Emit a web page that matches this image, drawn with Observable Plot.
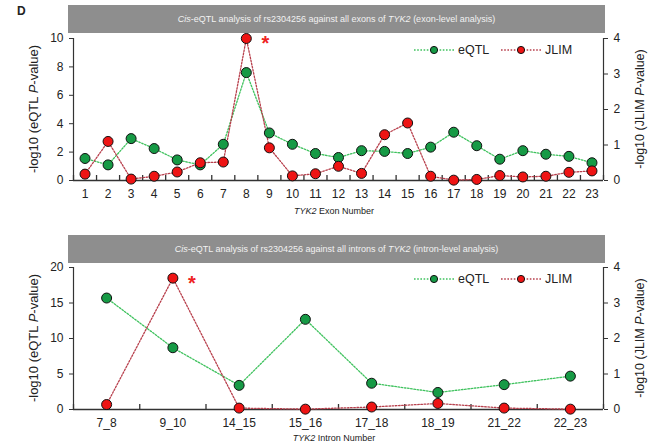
<!DOCTYPE html>
<html><head><meta charset="utf-8">
<script src="https://cdn.jsdelivr.net/npm/d3@7"></script>
<script src="https://cdn.jsdelivr.net/npm/@observablehq/plot@0.6"></script>
<style>
body{margin:0;background:#fff;font-family:"Liberation Sans",Arial,sans-serif}
#chart{position:relative;width:662px;height:445px;overflow:hidden}
#chart svg{position:absolute;left:0;display:block}
</style></head><body><div id="chart"></div><script>
// ---- data ----
const exonLabels = ["1","2","3","4","5","6","7","8","9","10","11","12","13","14","15","16","17","18","19","20","21","22","23"];
const exonEqtl = [1.55,1.1,2.95,2.25,1.45,1.1,2.55,7.6,3.35,2.55,1.9,1.62,2.1,2.05,1.9,2.35,3.4,2.45,1.5,2.1,1.85,1.7,1.25];
const exonJlim = [0.18,1.1,0.04,0.12,0.24,0.5,0.52,4.0,0.92,0.13,0.19,0.4,0.2,1.29,1.62,0.12,0.01,0.03,0.14,0.1,0.12,0.23,0.27];
const exonStar = ["8"];
const intronLabels = ["7_8","9_10","14_15","15_16","17_18","18_19","21_22","22_23"];
const intronEqtl = [15.7,8.7,3.4,12.7,3.7,2.4,3.5,4.7];
const intronJlim = [0.14,3.7,0.04,0.01,0.07,0.17,0.04,0.01];
const intronStar = ["9_10"];
const exonLeftTicks = [0,2,4,6,8,10];
const intronLeftTicks = [0,5,10,15,20];
const rightTicks = [0,1,2,3,4];

const FONT = "Liberation Sans, Arial, sans-serif";
const GREEN_LINE = "#3fc25e", GREEN_DOT = "#169a45";
const RED_LINE = "#b8404d", RED_DOT = "#ee1414";
const AXIS = "#333";

function panel(cfg) {
  const {labels, eqtl, jlim, star, leftMax, leftTicks, top, height, mt, mb, headerTop, titleParts, xTitleWord, xTitleOffset} = cfg;
  const k = leftMax / 4;
  const n = labels.length;
  const rows = labels.map((l, i) => ({i: i + 1, label: l, eqtl: eqtl[i], jlimS: jlim[i] * k, star: star.includes(l)}));
  const bounds = d3.range(0, n + 1).map(d => d + 0.5);
  const svg = Plot.plot({
    width: 662, height, marginTop: mt, marginBottom: mb, marginLeft: 73, marginRight: 59,
    style: {fontFamily: FONT, fontSize: "12px", color: "#222", background: "transparent", overflow: "visible"},
    x: {type: "linear", domain: [0.5, n + 0.5]},
    y: {domain: [0, leftMax]},
    marks: [
      Plot.ruleX([bounds[0]], {stroke: AXIS, strokeWidth: 1.2}),
      Plot.ruleX([bounds[n]], {stroke: AXIS, strokeWidth: 1.2}),
      Plot.ruleY([0], {stroke: AXIS, strokeWidth: 1.5}),
      Plot.axisX(d3.range(1, n + 1), {tickSize: 0, tickPadding: 9, tickFormat: i => labels[i - 1], fontSize: 12, label: null}),
      Plot.axisX(bounds, {tickSize: 5, dy: -5, tickFormat: () => "", label: null, stroke: AXIS, strokeWidth: 1.3}),
      Plot.axisY(leftTicks, {anchor: "left", tickSize: 4, tickPadding: 6, label: null, fontSize: 12, stroke: AXIS}),
      Plot.axisY(rightTicks.map(t => t * k), {anchor: "right", tickSize: 4, tickPadding: 6, tickFormat: d => String(Math.round(d / k)), label: null, fontSize: 12, stroke: AXIS}),
      Plot.line(rows, {x: "i", y: "eqtl", stroke: GREEN_LINE, strokeWidth: 1.3, strokeDasharray: "1.6,1.6"}),
      Plot.line(rows, {x: "i", y: "jlimS", stroke: RED_LINE, strokeWidth: 1.3, strokeDasharray: "1.6,1.6"}),
      Plot.dot(rows, {x: "i", y: "eqtl", r: 5, fill: GREEN_DOT, stroke: "#111", strokeWidth: 1}),
      Plot.dot(rows, {x: "i", y: "jlimS", r: 5, fill: RED_DOT, stroke: "#111", strokeWidth: 1}),
      Plot.text(rows.filter(d => d.star), {x: "i", y: "jlimS", text: () => "*", dx: 19, dy: 5, fill: "#ee2222", fontSize: 20, fontWeight: "bold"})
    ]
  });
  svg.style.top = top + "px";
  const s = d3.select(svg);
  // header band
  s.append("rect").attr("x", 68).attr("y", headerTop).attr("width", 537).attr("height", 28).attr("fill", "#8e8e8e");
  const ht = s.append("text").attr("x", 336.5).attr("y", headerTop + 14).attr("dy", "0.35em")
    .attr("text-anchor", "middle").attr("font-size", 9).attr("fill", "#f2f2f2").attr("font-family", FONT);
  titleParts.forEach(([t, it]) => ht.append("tspan").attr("font-style", it ? "italic" : "normal").text(t));
  const plotBottom = height - mb;
  // left y title
  const lt = s.append("text").attr("transform", `translate(33,${(mt + plotBottom) / 2}) rotate(-90)`)
    .attr("text-anchor", "middle").attr("dy", "0.35em").attr("font-size", 13).attr("fill", "#222").attr("font-family", FONT);
  lt.append("tspan").text("-log10 (eQTL ");
  lt.append("tspan").attr("font-style", "italic").text("P");
  lt.append("tspan").text("-value)");
  const rt = s.append("text").attr("transform", `translate(640,${(mt + plotBottom) / 2}) rotate(-90)`)
    .attr("text-anchor", "middle").attr("dy", "0.35em").attr("font-size", 12.5).attr("fill", "#222").attr("font-family", FONT);
  rt.append("tspan").text("-log10 (JLIM ");
  rt.append("tspan").attr("font-style", "italic").text("P");
  rt.append("tspan").text("-value)");
  // x title
  const xt = s.append("text").attr("x", 334).attr("y", plotBottom + xTitleOffset).attr("dy", "0.35em")
    .attr("text-anchor", "middle").attr("font-size", 9).attr("fill", "#222").attr("font-family", FONT);
  xt.append("tspan").attr("font-style", "italic").text("TYK2");
  xt.append("tspan").text(xTitleWord);
  // legend
  const ly = mt + 12;
  const lg = s.append("g").attr("font-family", FONT).attr("font-size", 12.5).attr("fill", "#222").attr("text-anchor", "start");
  [["eQTL", 414, GREEN_LINE, GREEN_DOT], ["JLIM", 501, RED_LINE, RED_DOT]].forEach(([name, x0, lc, dc]) => {
    lg.append("line").attr("x1", x0).attr("x2", x0 + 40).attr("y1", ly).attr("y2", ly)
      .attr("stroke", lc).attr("stroke-width", 1.3).attr("stroke-dasharray", "1.6,1.6");
    lg.append("circle").attr("cx", x0 + 20).attr("cy", ly).attr("r", 3.6).attr("fill", dc).attr("stroke", "#111").attr("stroke-width", 1);
    lg.append("text").attr("x", x0 + 44).attr("y", ly).attr("dy", "0.35em").attr("text-anchor", "start").text(name);
  });
  return svg;
}

const chart = document.getElementById("chart");
const p1 = panel({labels: exonLabels, eqtl: exonEqtl, jlim: exonJlim, star: exonStar, leftMax: 10, leftTicks: exonLeftTicks,
  top: 0, height: 220, mt: 38, mb: 40, headerTop: 5,
  titleParts: [["Cis", true], ["-eQTL analysis of rs2304256 against all exons of ", false], ["TYK2", true], [" (exon-level analysis)", false]],
  xTitleWord: " Exon Number", xTitleOffset: 31});
const p2 = panel({labels: intronLabels, eqtl: intronEqtl, jlim: intronJlim, star: intronStar, leftMax: 20, leftTicks: intronLeftTicks,
  top: 220, height: 225, mt: 47, mb: 36, headerTop: 15,
  titleParts: [["Cis", true], ["-eQTL analysis of rs2304256 against all introns of ", false], ["TYK2", true], [" (intron-level analysis)", false]],
  xTitleWord: " Intron Number", xTitleOffset: 29});
d3.select(p1).append("text").attr("x", 17).attr("y", 15).attr("font-size", 12).attr("font-weight", "bold")
  .attr("font-family", FONT).attr("fill", "#222").attr("text-anchor", "start").text("D");
chart.appendChild(p1);
chart.appendChild(p2);
</script></body></html>
